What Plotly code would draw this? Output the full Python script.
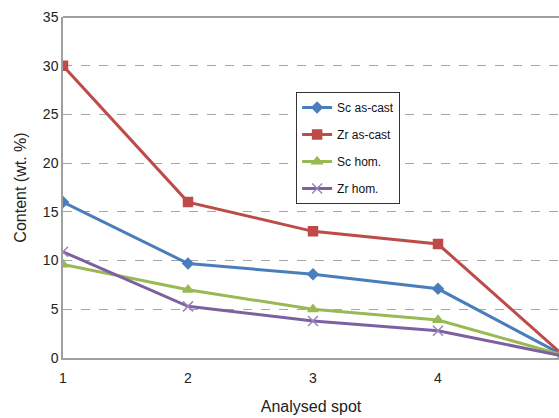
import plotly.graph_objects as go

spots = [1, 2, 3, 4, 5]
sc_ascast = [16.0, 9.7, 8.6, 7.1, 0.3]
zr_ascast = [30.0, 16.0, 13.0, 11.7, 0.3]
sc_hom = [9.6, 7.0, 5.0, 3.9, 0.3]
zr_hom = [10.9, 5.3, 3.8, 2.8, 0.2]

series = [
    ("Sc as-cast", sc_ascast, "#4A7EBB", "diamond", 8, "#4A7EBB"),
    ("Zr as-cast", zr_ascast, "#BE4B48", "square", 9, "#BE4B48"),
    ("Sc hom.", sc_hom, "#98B954", "triangle-up", 9, "#98B954"),
    ("Zr hom.", zr_hom, "#7D60A0", "x-thin-open", 10, "#9A82BE"),
]

fig = go.Figure()
for i, (name, vals, col, sym, sz, mcol) in enumerate(series):
    fig.add_trace(go.Scatter(
        x=spots, y=vals, name=name, mode="lines+markers",
        legendgroup=f"g{i}",
        line=dict(color=col, width=3),
        marker=dict(symbol=sym, size=sz, color=mcol, line=dict(color=mcol, width=1.5)),
        cliponaxis=True,
    ))

fig.update_layout(
    width=559, height=418,
    margin=dict(l=63, r=0, t=17, b=60),
    paper_bgcolor="white", plot_bgcolor="white",
    font=dict(family="Liberation Sans, Arial, sans-serif", color="#222222", size=14),
    showlegend=True,
    legend=dict(
        x=0.47, y=0.78, xanchor="left", yanchor="top",
        bordercolor="#333333", borderwidth=1, bgcolor="white",
        font=dict(size=12, color="#111111"),
        traceorder="grouped", tracegroupgap=8,
    ),
    xaxis=dict(
        range=[1, 4.968], tickvals=spots, ticktext=[str(s) for s in spots],
        showgrid=False, zeroline=False,
        showline=True, linecolor="#A0A0A0", linewidth=1.5,
        ticks="", tickfont=dict(size=14), ticklabelstandoff=6,
        title=dict(text="Analysed spot", font=dict(size=16), standoff=16),
    ),
    yaxis=dict(
        range=[0, 35], tickvals=[0, 5, 10, 15, 20, 25, 30, 35],
        showgrid=True, gridcolor="#A6A6A6", griddash="dash", gridwidth=1,
        zeroline=False,
        showline=True, linecolor="#A0A0A0", linewidth=1.5,
        ticks="", tickfont=dict(size=14),
        title=dict(text="Content (wt. %)", font=dict(size=16), standoff=12),
    ),
)

# top border of plot area
fig.add_shape(type="line", xref="paper", yref="paper", x0=0, x1=1, y0=1, y1=1,
              line=dict(color="#808080", width=1.5))

fig.write_html("out.html")
